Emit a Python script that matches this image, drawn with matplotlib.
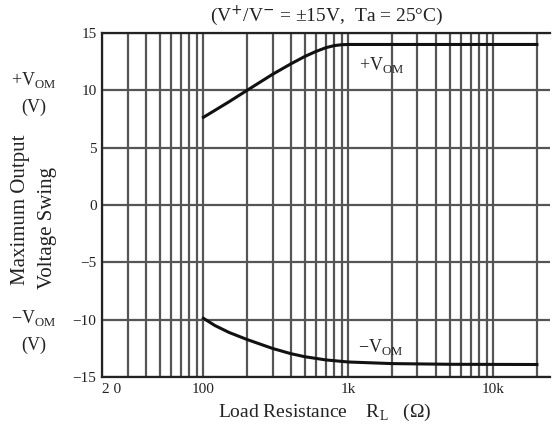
import matplotlib.pyplot as plt
from matplotlib.ticker import FixedLocator, NullFormatter

plt.rcParams['font.family'] = ['Liberation Serif', 'DejaVu Serif']

# load resistance (ohm) and output swing (V)
r_pos = [100, 150, 200, 300, 400, 500, 600, 700, 800, 900, 1000, 20000]
v_pos = [7.65, 9.0, 10.0, 11.4, 12.3, 12.95, 13.4, 13.72, 13.9, 13.98, 14.0, 14.0]

r_neg = [100, 120, 150, 200, 300, 400, 500, 700, 1000, 2000, 5000, 20000]
v_neg = [-9.87, -10.5, -11.1, -11.72, -12.5, -12.95, -13.22, -13.5, -13.68, -13.82, -13.88, -13.9]

x_major = [20, 100, 1000, 10000]
x_labels = ['2 0', '100', '1k', '10k']
x_minor = [30, 40, 50, 60, 70, 80, 90,
           200, 300, 400, 500, 600, 700, 800, 900,
           2000, 3000, 4000, 5000, 6000, 7000, 8000, 9000, 20000]
y_ticks = [-15, -10, -5, 0, 5, 10, 15]
y_labels = ['\u221215', '\u221210', '\u22125', '0', '5', '10', '15']

ink = '#222222'
grid_c = '#555555'

fig = plt.figure(figsize=(5.58, 4.37), dpi=100)
ax = fig.add_axes([0.183, 0.137, 0.803, 0.7875])

ax.set_xscale('log')
ax.set_xlim(20, 24700)
ax.set_ylim(-15, 15)

ax.xaxis.set_major_locator(FixedLocator(x_major))
ax.xaxis.set_minor_locator(FixedLocator(x_minor))
ax.xaxis.set_minor_formatter(NullFormatter())
ax.set_xticks(x_major, x_labels)
ax.set_yticks(y_ticks, y_labels)
ax.tick_params(which='both', length=0, labelsize=11, colors=ink, pad=4)
ax.get_xticklabels()[0].set_horizontalalignment('left')

ax.grid(True, which='both', axis='x', color=grid_c, lw=1.6)
ax.grid(True, which='major', axis='y', color=grid_c, lw=1.6)
for s in ['left', 'bottom', 'top']:
    ax.spines[s].set_color(ink)
    ax.spines[s].set_linewidth(1.6)
ax.spines['right'].set_visible(False)

ax.plot(r_pos, v_pos, color='#111111', lw=2.2)
ax.plot(r_neg, v_neg, color='#111111', lw=2.2)

ax.text(1700, 12.2, '+V$_{\\mathregular{OM}}$', fontsize=13, color=ink, ha='center', va='center')
ax.text(1660, -12.4, '\u2212V$_{\\mathregular{OM}}$', fontsize=13, color=ink, ha='center', va='center')

fig.text(0.586, 0.964, '(V$^{+}$/V$^{-}$ = \u00b115V,  Ta = 25\u00b0C)', fontsize=14,
         color=ink, ha='center', va='center')
fig.text(0.582, 0.057, 'Load Resistance    R$_{\\mathregular{L}}$   (\u03a9)', fontsize=14,
         color=ink, ha='center', va='center')

# y-axis label block
fig.text(0.06, 0.817, '+V$_{\\mathregular{OM}}$', fontsize=13, color=ink, ha='center', va='center')
fig.text(0.06, 0.755, '(V)', fontsize=13, color=ink, ha='center', va='center')
fig.text(0.036, 0.52, 'Maximum Output', fontsize=15, color=ink, rotation=90,
         ha='center', va='center')
fig.text(0.086, 0.478, 'Voltage Swing', fontsize=15, color=ink, rotation=90,
         ha='center', va='center')
fig.text(0.06, 0.272, '\u2212V$_{\\mathregular{OM}}$', fontsize=13, color=ink, ha='center', va='center')
fig.text(0.06, 0.21, '(V)', fontsize=13, color=ink, ha='center', va='center')

fig.savefig('out.png', dpi=100)
